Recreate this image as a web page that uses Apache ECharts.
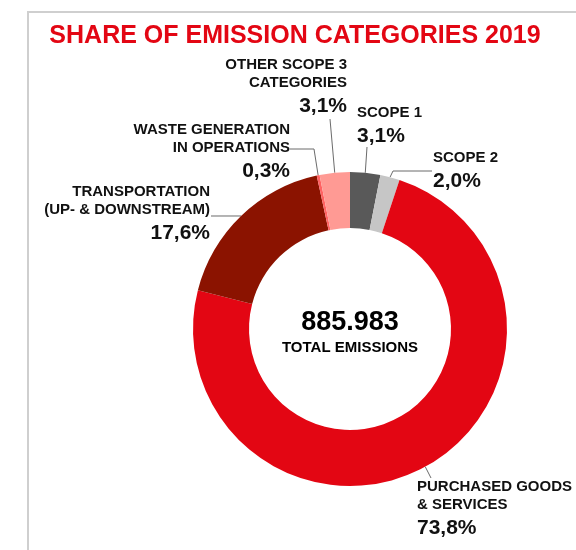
<!DOCTYPE html>
<html>
<head>
<meta charset="utf-8">
<script src="https://cdn.jsdelivr.net/npm/echarts@6/dist/echarts.min.js"></script>
<style>
html, body { margin: 0; padding: 0; background: #fff; }
#main { width: 576px; height: 550px; }
</style>
</head>
<body>
<div id="main"></div>
<script>
// 数据
var categories = ['SCOPE 1', 'SCOPE 2', 'PURCHASED GOODS\n& SERVICES', 'TRANSPORTATION\n(UP- & DOWNSTREAM)', 'WASTE GENERATION\nIN OPERATIONS', 'OTHER SCOPE 3\nCATEGORIES'];
var shares = [3.1, 2.0, 73.8, 17.6, 0.3, 3.1];
var totalEmissions = 885983;
var titleText = 'SHARE OF EMISSION CATEGORIES 2019';
var totalText = 'TOTAL EMISSIONS';

// 样式
var sliceColors = ['#595959', '#c6c6c6', '#e30613', '#8b1300', '#ff6262', '#ff9a94'];
var fontFam = '"Liberation Sans", Arial, sans-serif';
// 标签位置 (x, 顶部y, 对齐, 引导线的后续点)
var labelPlaces = [
	{x: 357, y: 104, align: 'left', line: [[367, 147]]},
	{x: 433, y: 149, align: 'left', line: [[393, 171], [432, 171]]},
	{x: 417, y: 478, align: 'left', line: [[431, 478]]},
	{x: 210, y: 183, align: 'right', line: [[211, 216]]},
	{x: 290, y: 121, align: 'right', line: [[314, 149], [290, 149]]},
	{x: 347, y: 56, align: 'right', line: [[330, 119]]}
];

function fmtTotal(n) {
	return String(n).replace(/\B(?=(\d{3})+(?!\d))/g, '.');
}

var pieData = [];
for (var i = 0; i < categories.length; i++) {
	pieData.push({
		name: categories[i],
		value: shares[i],
		itemStyle: {color: sliceColors[i]},
		label: {align: labelPlaces[i].align}
	});
}

var myChart = echarts.init(document.getElementById('main'), null, {renderer: 'canvas'});

var option = {
	animation: false,
	backgroundColor: '#fff',
	graphic: [
		// 外框
		{type: 'line', shape: {x1: 28, y1: 12, x2: 576, y2: 12}, style: {stroke: '#cfcfcf', lineWidth: 2}},
		{type: 'line', shape: {x1: 28, y1: 11, x2: 28, y2: 550}, style: {stroke: '#cfcfcf', lineWidth: 2}},
		{
			type: 'text', x: 295, y: 36,
			style: {text: titleText, fill: '#e30613', font: 'bold 25px ' + fontFam, textAlign: 'center', textVerticalAlign: 'middle'}
		},
		{
			type: 'text', x: 350, y: 323,
			style: {text: fmtTotal(totalEmissions), fill: '#000', font: 'bold 27px ' + fontFam, textAlign: 'center', textVerticalAlign: 'middle'}
		},
		{
			type: 'text', x: 350, y: 348,
			style: {text: totalText, fill: '#000', font: 'bold 15px ' + fontFam, textAlign: 'center', textVerticalAlign: 'middle'}
		}
	],
	series: [{
		type: 'pie',
		center: [350, 329],
		radius: [101, 157],
		startAngle: 90,
		clockwise: true,
		avoidLabelOverlap: false,
		itemStyle: {borderWidth: 0},
		label: {
			show: true,
			position: 'outside',
			color: '#111',
			fontFamily: fontFam,
			formatter: function(p) {
				return '{n|' + p.name + '}\n{p|' + p.value.toFixed(1).replace('.', ',') + '%}';
			},
			rich: {
				n: {fontSize: 15, fontWeight: 'bold', lineHeight: 18, color: '#111', fontFamily: fontFam},
				p: {fontSize: 21, fontWeight: 'bold', lineHeight: 29, color: '#111', fontFamily: fontFam}
			}
		},
		labelLine: {
			show: true,
			lineStyle: {color: '#6b6b6b', width: 1}
		},
		emphasis: {disabled: true},
		labelLayout: function(params) {
			var pl = labelPlaces[params.dataIndex];
			var anchor = params.labelLinePoints ? params.labelLinePoints[0] : pl.line[0];
			return {
				x: pl.x,
				y: pl.y,
				align: pl.align,
				verticalAlign: 'top',
				labelLinePoints: [anchor].concat(pl.line)
			};
		},
		data: pieData
	}]
};

myChart.setOption(option);
</script>
</body>
</html>
